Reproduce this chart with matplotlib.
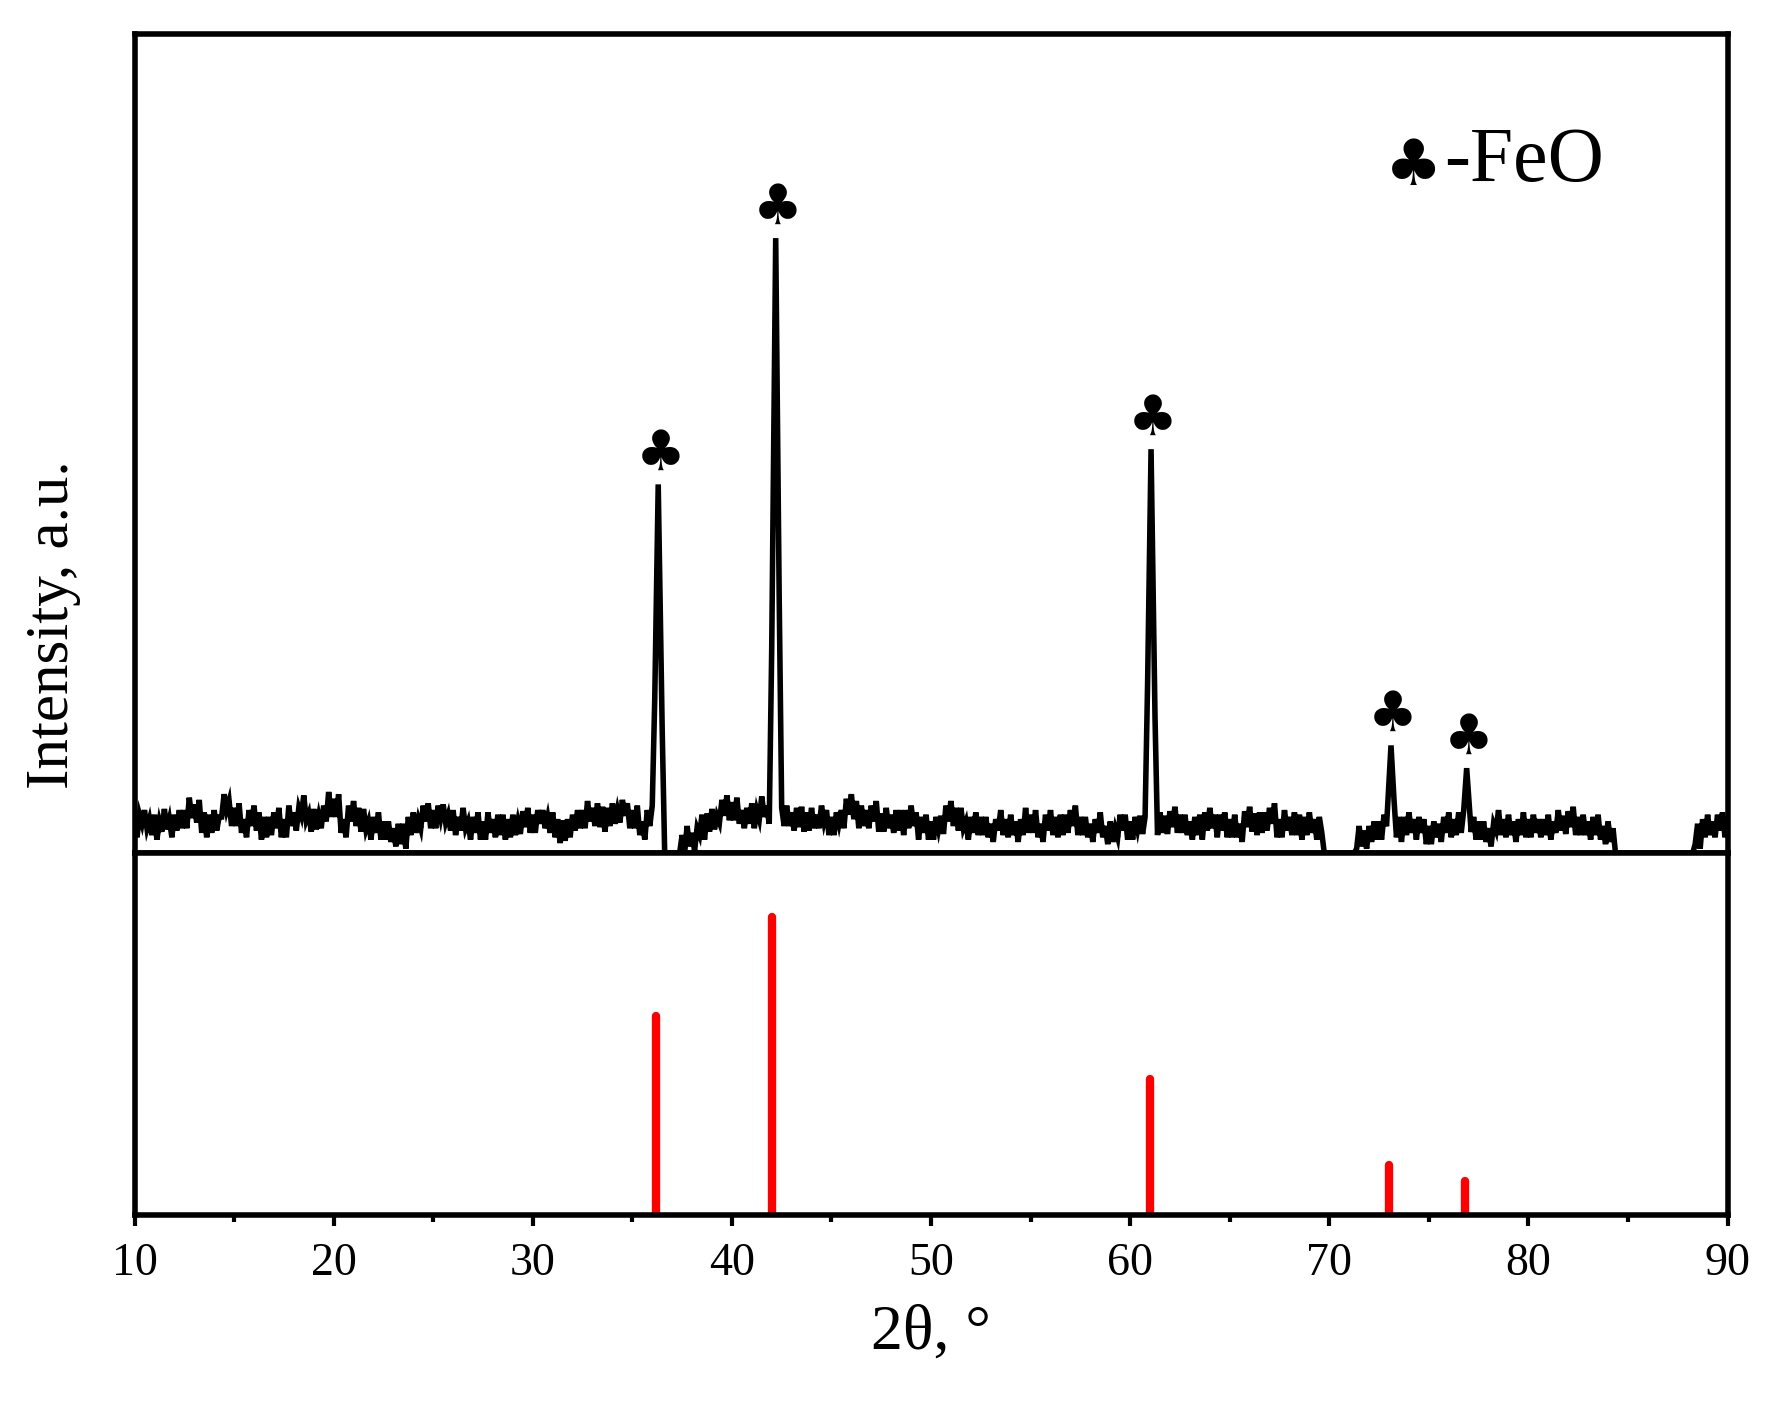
import matplotlib
matplotlib.use("Agg")
import matplotlib.pyplot as plt
import numpy as np

plt.rcParams['font.family'] = ['Liberation Serif', 'DejaVu Sans']

# background noise, 0.5 deg steps from 10 to 90
bg_start, bg_step = 10.0, 0.5
bg_vals = [20,30,18,25,22,28,35,20,24,40,30,22,26,18,24,20,28,35,25,30,
           38,22,30,25,20,18,14,10,22,30,28,35,22,26,20,18,22,18,20,25,
           24,30,20,15,22,28,32,25,30,35,28,20,26,4,0,6,10,18,25,35,
           35,30,28,36,34,30,28,25,26,30,22,30,36,28,30,25,26,22,28,20,
           18,25,30,26,20,22,18,22,20,18,24,18,22,20,26,22,18,20,14,22,
           18,25,20,22,25,24,20,18,26,22,20,18,25,22,28,20,24,18,22,20,
           0,0,0,10,12,18,20,16,22,20,14,18,20,22,16,18,14,22,20,18,
           20,22,18,24,25,22,20,18,14,0,0,0,0,0,0,0,0,10,20,22,
           20]

# fine spikes superimposed on the background
spike_vals = [10,-6,14,-4,8,-8,12,-2,16,-6]

# FeO peaks (experimental)
peak_pos = [36.3, 42.2, 61.05, 73.1, 76.9]
peak_h = [325, 542, 356, 95, 75]
peak_hw = 0.3

# reference stick pattern
ref_pos = [36.2, 42.0, 61.0, 73.0, 76.8]
ref_h = [175, 262, 120, 44, 30]

x = np.arange(10, 90.001, 0.125)
bi = np.clip(np.round((x-bg_start)/bg_step).astype(int), 0, len(bg_vals)-1)
base = np.array(bg_vals, float)[bi]
sp = np.array(spike_vals, float)[np.arange(len(x)) % len(spike_vals)]
y = np.where(base > 0, np.clip(base + sp, 0, None), 0)
# insert exact peak apex points
x = np.concatenate([x, peak_pos])
y = np.concatenate([y, np.zeros(len(peak_pos))])
o = np.argsort(x); x = x[o]; y = y[o]
for p, h in zip(peak_pos, peak_h):
    tri = np.clip(1-np.abs(x-p)/peak_hw, 0, None)*h
    y = np.maximum(y, tri)

fig = plt.figure(figsize=(17.7, 14.08), dpi=100)
ax1 = fig.add_axes([0.076, 0.394, 0.9, 0.582])
ax2 = fig.add_axes([0.076, 0.137, 0.9, 0.257], sharex=ax1)

ax1.plot(x, y, color='black', lw=4, solid_joinstyle='miter')
ax1.set_ylim(0, 722)
ax1.set_yticks([])
for p, h in zip(peak_pos, peak_h):
    ax1.text(p+0.1, h+2, '♣', ha='center', va='bottom', fontsize=40, family=['DejaVu Sans'])
ax1.text(0.785, 0.8, '♣', transform=ax1.transAxes, fontsize=46, ha='left', va='bottom', family=['DejaVu Sans'])
ax1.text(0.822, 0.8, '-FeO', transform=ax1.transAxes, fontsize=56, ha='left', va='bottom')
ax1.tick_params(axis='x', which='both', bottom=False, labelbottom=False)

ax2.vlines(ref_pos, 0, ref_h, color='red', lw=6, capstyle='round')
ax2.set_ylim(0, 318)
ax2.set_yticks([])
ax2.set_xlim(10, 90)
ax2.set_xticks(range(10, 91, 10))
ax2.set_xticks(range(15, 90, 10), minor=True)
ax2.tick_params(axis='x', which='major', direction='out', length=8, width=3, labelsize=33, pad=12)
ax2.tick_params(axis='x', which='minor', direction='out', length=5, width=3)
ax2.set_xlabel('2θ, °', fontsize=46, labelpad=14)
fig.text(0.03, 0.556, 'Intensity, a.u.', rotation=90, fontsize=44, ha='center', va='center')

for ax in (ax1, ax2):
    for s in ax.spines.values():
        s.set_linewidth(4)

fig.savefig('out.png', dpi=100)
